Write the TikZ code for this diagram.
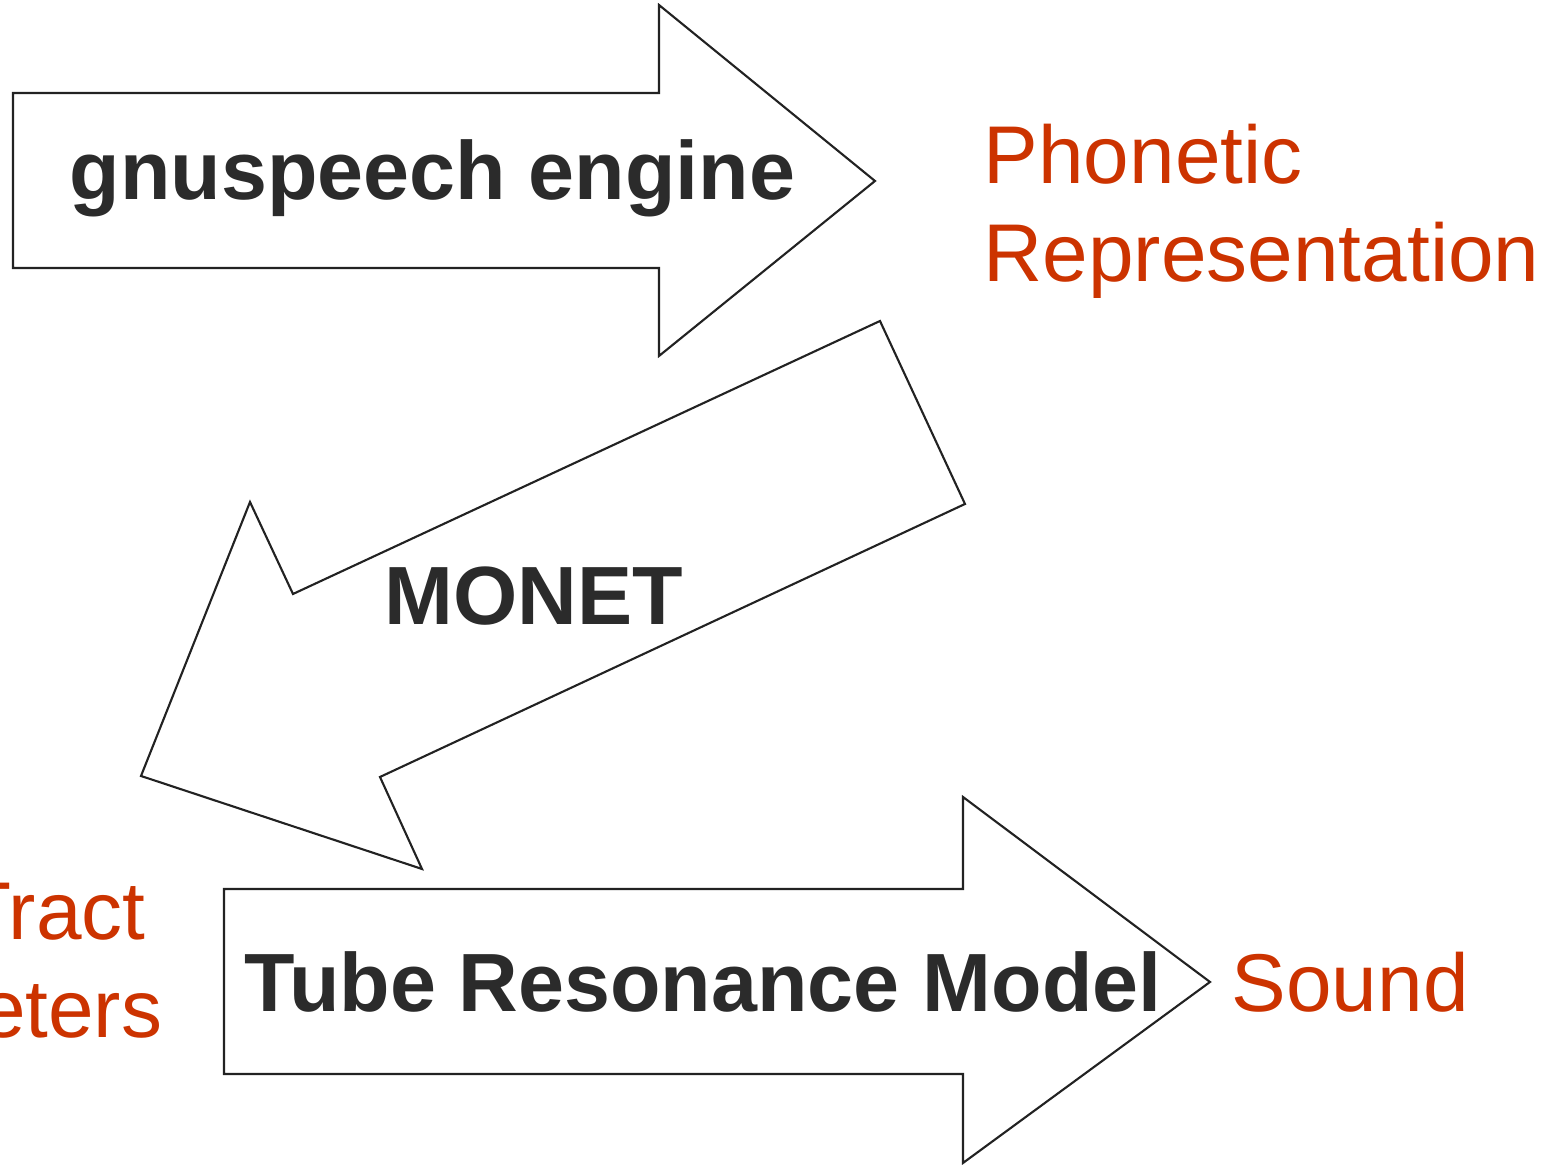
\documentclass[tikz,border=0pt]{standalone}
\usepackage{fontspec}
\setmainfont{Liberation Sans}
\usepackage{xcolor}
\usepackage{tikz}

\definecolor{labelred}{HTML}{CC3300}
\definecolor{stagetext}{HTML}{2B2B2B}
\definecolor{outline}{HTML}{222222}

\begin{document}
\begin{tikzpicture}[x=0.01cm, y=-0.01cm,
    bigarrow/.style={draw=outline, line width=0.6pt, fill=white, line join=miter},
    stage/.style={inner sep=0, anchor=base west, text=stagetext,
        font=\fontsize{23.5}{28}\selectfont\bfseries},
    data/.style={inner sep=0, anchor=base west, text=labelred, align=left,
        font=\fontsize{23.3}{27.9}\selectfont}]
                                \useasboundingbox (0, 0) rectangle (1562, 1165);
                                \clip (0, 0) rectangle (1562, 1165);

                                % block arrows
                                \draw[bigarrow] (13, 93) -- (659, 93) -- (659, 5) -- (875, 181)
                                    -- (659, 356) -- (659, 268) -- (13, 268) -- cycle;
                                \draw[bigarrow] (880, 321) -- (965, 504) -- (380, 777) -- (422, 869)
                                    -- (141, 776) -- (250, 502) -- (293, 594) -- cycle;
                                \draw[bigarrow] (224, 889) -- (963, 889) -- (963, 797) -- (1210, 982)
                                    -- (963, 1163) -- (963, 1074) -- (224, 1074) -- cycle;

                                \node (engine) at (69, 200) [stage] {gnuspeech engine};
                                \node (monet) at (384, 625) [stage] {MONET};
                                \node (tube) at (244, 1012) [stage] {Tube Resonance Model};

                                % base of a two-line node is its last line
                                \node (phonetic) at (983, 282) [data] {Phonetic\\Representation};
                                \node (params) at (-262, 1038) [data] {Vocal Tract\\Parameters};
                                \node (sound) at (1231, 1012) [data] {Sound};
                            \end{tikzpicture}
\end{document}
